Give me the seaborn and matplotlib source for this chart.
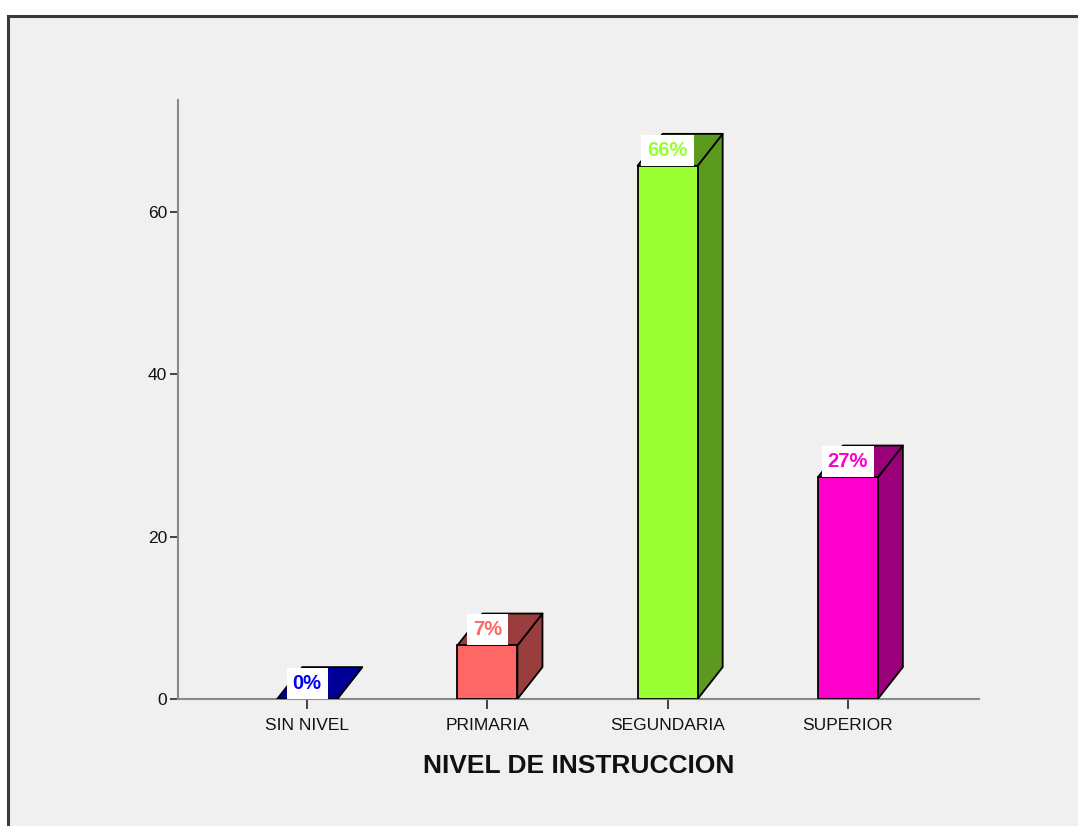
import matplotlib
matplotlib.use("Agg")
import matplotlib.pyplot as plt
from matplotlib.patches import Polygon, Rectangle
import seaborn as sns
import pandas as pd

# Nivel de instrucción: porcentaje de encuestados
categories = ["SIN NIVEL", "PRIMARIA", "SEGUNDARIA", "SUPERIOR"]
percentages = [0.0, 6.6, 65.7, 27.3]
y_ticks = [0, 20, 40, 60]
front_colors = ["#0000ff", "#ff6666", "#99ff33", "#ff00cc"]
shade_colors = ["#000099", "#993d3d", "#5c991f", "#99007a"]
x_title = "NIVEL DE INSTRUCCION"

sns.set_style("white")
plt.rcParams["font.family"] = ["Liberation Sans", "DejaVu Sans"]

W, H = 1078, 826
fig = plt.figure(figsize=(W / 100, H / 100), dpi=100, facecolor="white")

# grey chart panel with a dark frame on the top and left edges
fig.patches.append(Rectangle((7.5 / W, -0.1), 1.2, 1 - 15.5 / H + 0.1,
                             transform=fig.transFigure, facecolor="#f0f0f0",
                             edgecolor="#3a3a3a", linewidth=2.2, zorder=-10))

ax = fig.add_axes([178 / W, 1 - 699 / H, (979 - 178) / W, (699 - 100) / H])
ax.patch.set_visible(False)

df = pd.DataFrame({"nivel": categories, "pct": percentages})
bar_w = 0.333
edge_w = 1.3
sns.barplot(data=df, x="nivel", y="pct", hue="nivel", palette=front_colors,
            saturation=1, width=bar_w, edgecolor="black", linewidth=edge_w,
            legend=False, ax=ax, zorder=3)

# depth faces (side and top) for the pseudo-3D look
dx, dy = 0.139, 3.93
for i, (v, shade) in enumerate(zip(percentages, shade_colors)):
    x0, x1 = i - bar_w / 2, i + bar_w / 2
    side = Polygon([(x1, 0), (x1 + dx, dy), (x1 + dx, v + dy), (x1, v)],
                   closed=True, facecolor=shade, edgecolor="black",
                   linewidth=edge_w, zorder=2.8, joinstyle="round")
    top = Polygon([(x0, v), (x0 + dx, v + dy), (x1 + dx, v + dy), (x1, v)],
                  closed=True, facecolor=shade, edgecolor="black",
                  linewidth=edge_w, zorder=2.9, joinstyle="round")
    ax.add_patch(side)
    ax.add_patch(top)

label_size = 14.5
label_pad = 0.3
for i, (v, c) in enumerate(zip(percentages, front_colors)):
    ax.annotate(f"{v:.0f}%", xy=(i, v), xytext=(0, label_pad * label_size),
                textcoords="offset points", ha="center", va="bottom",
                fontsize=label_size, fontweight="bold", color=c,
                bbox=dict(boxstyle=f"square,pad={label_pad}", fc="white",
                          ec="none"),
                zorder=5)

ax.set_xlim(-0.717, 3.728)
ax.set_ylim(0, 73.8)
ax.set_yticks(y_ticks)
ax.set_yticklabels([str(t) for t in y_ticks])

for side_name in ["top", "right"]:
    ax.spines[side_name].set_visible(False)
for side_name in ["left", "bottom"]:
    ax.spines[side_name].set_color("#8a8a8a")
    ax.spines[side_name].set_linewidth(1.5)

ax.tick_params(axis="both", which="major", bottom=True, left=True,
               direction="out", width=1.3, color="#333333",
               labelsize=12.5, labelcolor="#111111")
ax.tick_params(axis="x", length=7, pad=7)
ax.tick_params(axis="y", length=6, pad=2)

ax.set_xlabel(x_title, fontsize=19, fontweight="bold", labelpad=14.5,
              color="#111111")
ax.set_ylabel("")

fig.savefig("out.png", dpi=100)
